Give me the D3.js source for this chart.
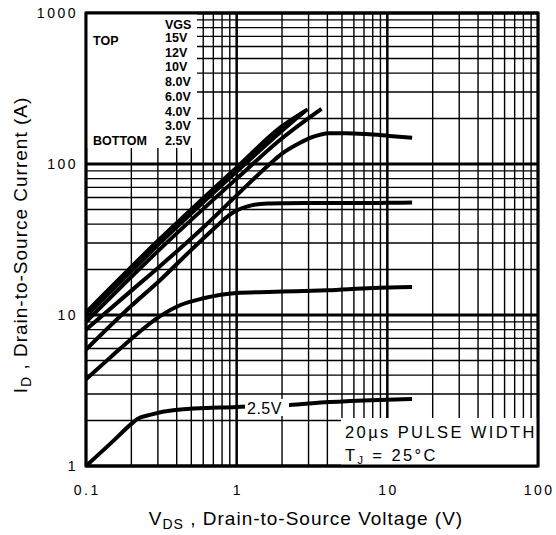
<!DOCTYPE html>
<html><head><meta charset="utf-8">
<script src="https://cdn.jsdelivr.net/npm/d3@7"></script>
<style>
html,body{margin:0;padding:0;background:#fff;}
svg{display:block;}
</style>
</head><body>
<svg id="chart" width="556" height="535"></svg>
<script>
// ---- data ----
const xTickValues = [0.1, 1, 10, 100];
const xTickLabels = ["0.1", "1", "10", "100"];
const yTickValues = [1, 10, 100, 1000];
const yTickLabels = ["1", "10", "100", "1000"];
const legendHeader = "VGS";
const vgsLabels = ["15V", "12V", "10V", "8.0V", "6.0V", "4.0V", "3.0V", "2.5V"];

const vds15 = [0.1, 0.3, 1, 2, 2.96];
const id15  = [10.4, 31, 95, 178, 230];
const vds12 = [0.1, 0.3, 1, 2, 2.85];
const id12  = [10.1, 30, 92, 172, 224];
const vds10 = [0.1, 0.3, 1, 2, 2.75];
const id10  = [9.8, 29, 89, 166, 218];
const vds8  = [0.1, 0.3, 1, 2, 3.66];
const id8   = [9.0, 26.5, 80, 148, 232];
const vds6  = [0.1, 0.2, 0.3, 0.6, 1, 1.66, 2, 2.6, 3.2, 4.1, 5.3, 7.2, 10.3, 14.6];
const id6   = [8.0, 14.5, 20.5, 38, 62, 100, 117, 137, 151, 160, 160, 158, 153.5, 149];
const vds4  = [0.1, 0.2, 0.31, 0.5, 0.7, 0.94, 1.27, 1.6, 2, 5, 10, 14.6];
const id4   = [5.9, 11.5, 17, 27, 37, 47.5, 53.4, 54.8, 55, 55.2, 55.3, 55.5];
const vds3  = [0.1, 0.144, 0.205, 0.3, 0.42, 0.6, 1, 2, 4, 8, 14.6];
const id3   = [3.75, 5.2, 7.1, 9.6, 11.6, 12.9, 14.0, 14.3, 14.6, 15.1, 15.3];
const vds25 = [0.1, 0.15, 0.2, 0.22, 0.265, 0.39, 1, 2.2, 4.1, 8.8, 14.6];
const id25  = [1, 1.45, 1.9, 2.05, 2.18, 2.35, 2.46, 2.53, 2.65, 2.74, 2.78];

const series = [
  [vds15, id15], [vds12, id12], [vds10, id10], [vds8, id8],
  [vds6, id6], [vds4, id4], [vds3, id3], [vds25, id25]
];

const noteLine1 = "20\u00B5s PULSE WIDTH";
const curveLabel = "2.5V";

// ---- layout ----
const svg = d3.select("#chart");
const L = 86, R = 538, T = 13, B = 466;
const x = d3.scaleLog().domain([0.1, 100]).range([L, R]);
const y = d3.scaleLog().domain([1, 1000]).range([B, T]);
const font = "'Liberation Sans', Arial, sans-serif";

// grid
const gx = x.ticks();
const gy = y.ticks();
const isMajor = v => Math.abs(Math.log10(v) - Math.round(Math.log10(v))) < 1e-9;
svg.append("g").selectAll("line").data(gx).join("line")
  .attr("x1", d => x(d)).attr("x2", d => x(d)).attr("y1", T).attr("y2", B)
  .attr("stroke", "#000").attr("stroke-width", d => isMajor(d) ? 2.5 : 1.4);
svg.append("g").selectAll("line").data(gy).join("line")
  .attr("y1", d => y(d)).attr("y2", d => y(d)).attr("x1", L).attr("x2", R)
  .attr("stroke", "#000").attr("stroke-width", d => isMajor(d) ? 2.8 : 1.4);

// legend box (white, covers grid)
svg.append("rect").attr("x", L).attr("y", T).attr("width", 111).attr("height", 135).attr("fill", "#fff");
// note box
svg.append("rect").attr("x", 341).attr("y", 418).attr("width", R - 341).attr("height", B - 418).attr("fill", "#fff");

// curves
const line = d3.line().x(d => x(d[0])).y(d => y(d[1])).curve(d3.curveMonotoneX);
svg.append("g").selectAll("path").data(series).join("path")
  .attr("d", s => line(s[0].map((v, i) => [v, s[1][i]])))
  .attr("fill", "none").attr("stroke", "#000").attr("stroke-width", 4)
  .attr("stroke-linejoin", "round").attr("stroke-linecap", "butt");

// 2.5V label on curve
svg.append("rect").attr("x", 245).attr("y", 399).attr("width", 44).attr("height", 17).attr("fill", "#fff");
svg.append("text").attr("x", 247).attr("y", 414).text(curveLabel)
  .attr("font-family", font).attr("font-size", 16).attr("letter-spacing", 0.5);

// frame
svg.append("rect").attr("x", L).attr("y", T).attr("width", R - L).attr("height", B - T)
  .attr("fill", "none").attr("stroke", "#000").attr("stroke-width", 3);

// legend text
const lg = svg.append("g").attr("font-family", "'Liberation Sans Narrow', 'Arial Narrow', 'Liberation Sans', sans-serif")
  .attr("font-weight", "bold").attr("font-size", 12.5);
lg.append("text").attr("x", 93).attr("y", 45).text("TOP");
lg.append("text").attr("x", 93).attr("y", 145).text("BOTTOM");
lg.append("text").attr("x", 165).attr("y", 29).text(legendHeader);
lg.selectAll("text.v").data(vgsLabels).join("text").attr("class", "v")
  .attr("x", 165).attr("y", (d, i) => 42 + i * 14.7).text(d => d);

// note text
const nt = svg.append("g").attr("font-family", font).attr("font-size", 16.5).attr("letter-spacing", 2.4);
nt.append("text").attr("x", 345).attr("y", 438).text(noteLine1);
const tj = nt.append("text").attr("x", 345).attr("y", 461);
tj.append("tspan").text("T");
tj.append("tspan").attr("font-size", 11).attr("dy", 3).text("J");
tj.append("tspan").attr("dy", -3).text(" = 25\u00B0C");

// tick labels
const tf = svg.append("g").attr("font-family", font).attr("font-size", 14).attr("letter-spacing", 2.5).attr("fill", "#000");
tf.selectAll("text.x").data(xTickValues).join("text").attr("class", "x")
  .attr("x", d => x(d) + 1.2).attr("y", 495).attr("text-anchor", "middle")
  .text((d, i) => xTickLabels[i]);
tf.selectAll("text.y").data(yTickValues).join("text").attr("class", "y")
  .attr("x", 78).attr("y", d => y(d) + 5).attr("text-anchor", "end")
  .text((d, i) => yTickLabels[i]);

// axis titles
const xt = svg.append("text").attr("x", 306).attr("y", 525).attr("text-anchor", "middle")
  .attr("font-family", font).attr("font-size", 19).attr("letter-spacing", 1);
xt.append("tspan").text("V");
xt.append("tspan").attr("font-size", 14).attr("dy", 4).text("DS");
xt.append("tspan").attr("dy", -4).text(" , Drain-to-Source Voltage (V)");

const yt = svg.append("text").attr("transform", "translate(27,245) rotate(-90)").attr("text-anchor", "middle")
  .attr("font-family", font).attr("font-size", 19).attr("letter-spacing", 1);
yt.append("tspan").text("I");
yt.append("tspan").attr("font-size", 14).attr("dy", 4).text("D");
yt.append("tspan").attr("dy", -4).text(" , Drain-to-Source Current (A)");
</script>
</body></html>
